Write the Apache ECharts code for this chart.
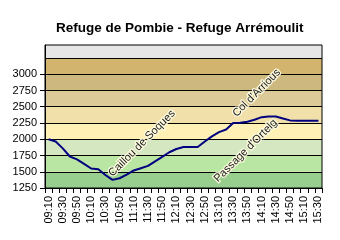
<!DOCTYPE html>
<html>
<head>
<meta charset="utf-8">
<script src="https://cdn.jsdelivr.net/npm/echarts@6/dist/echarts.min.js"></script>
<style>html,body{margin:0;padding:0;background:#fff;}#c{width:340px;height:240px;}</style>
</head>
<body>
<div id="c"></div>
<script>
var titleText = 'Refuge de Pombie - Refuge Arrémoulit';
var categories = ['09:10','09:20','09:30','09:40','09:50','10:00','10:10','10:20','10:30','10:40','10:50','11:00','11:10','11:20','11:30','11:40','11:50','12:00','12:10','12:20','12:30','12:40','12:50','13:00','13:10','13:20','13:30','13:40','13:50','14:00','14:10','14:20','14:30','14:40','14:50','15:00','15:10','15:20','15:30'];
var altitude = [2000,1965,1860,1735,1690,1620,1550,1540,1450,1375,1400,1455,1520,1555,1590,1660,1730,1800,1850,1880,1880,1880,1965,2045,2110,2150,2250,2255,2270,2300,2340,2350,2350,2320,2290,2285,2285,2285,2285];
var yTicks = [1250,1500,1750,2000,2250,2500,2750,3000,3250];
var bandLimits = [1250,1500,1750,2000,2250,2500,2750,3000,3250,3450];
var bandColors = ['#98cf8f','#b9e6a2','#d5e7c0','#fff0b5','#f1e0a9','#dccb98','#cdb87f','#d3b46f','#e6e6e6'];
var annoNames = ['Caillou de Soques','Col d\'Arrious','Passage d\'Ortelg'];
var annoX = ['11:20','14:00','13:50'];
var annoY = [1920,2680,1850];
var annoOffset = [[1.5,0],[3,0],[-2.5,0]];

var bands = [];
for (var i = 0; i < bandColors.length; i++) {
  bands.push([{yAxis: bandLimits[i], itemStyle: {color: bandColors[i]}}, {yAxis: bandLimits[i+1]}]);
}
var annos = [];
for (var j = 0; j < annoNames.length; j++) {
  annos.push({
    name: annoNames[j], coord: [annoX[j], annoY[j]],
    label: {formatter: annoNames[j], offset: annoOffset[j]}
  });
}
var font = 'Liberation Sans, Arial, sans-serif';
var chart = echarts.init(document.getElementById('c'), null, {renderer: 'canvas'});
chart.setOption({
  animation: false,
  backgroundColor: '#fff',
  title: {
    text: titleText, left: 51, top: 16,
    textStyle: {fontFamily: font, fontSize: 13.5, fontWeight: 'bold', color: '#000'}
  },
  grid: {left: 45, right: 18, top: 45, bottom: 52, show: true, borderColor: '#000', borderWidth: 1, z: 4},
  xAxis: {
    type: 'category', data: categories, boundaryGap: true,
    axisLine: {show: true, lineStyle: {color: '#000', width: 1}},
    axisTick: {show: true, interval: 0, length: 5, lineStyle: {color: '#000'}},
    axisLabel: {interval: 1, rotate: 90, margin: 8, color: '#000', fontFamily: font, fontSize: 11},
    splitLine: {show: false}
  },
  yAxis: {
    type: 'value', min: 1250, max: 3450, interval: 250, z: 2,
    axisLine: {show: true, lineStyle: {color: '#000', width: 1}},
    axisTick: {show: true, length: 5, lineStyle: {color: '#000'}, customValues: yTicks},
    axisLabel: {margin: 8, color: '#000', fontFamily: font, fontSize: 11, customValues: yTicks, showMaxLabel: false,
      formatter: function (v) { return String(v); }},
    splitLine: {show: true, lineStyle: {color: '#000', width: 1}}
  },
  series: [{
    type: 'line', data: altitude, symbol: 'none', smooth: false, z: 3,
    lineStyle: {color: '#000080', width: 2},
    markArea: {silent: true, z: 1, label: {show: false}, data: bands},
    markPoint: {
      silent: true, symbol: 'circle', symbolSize: 0, z: 6,
      label: {show: true, position: 'inside', rotate: 45, align: 'center', verticalAlign: 'middle',
        color: '#1a1a1a', fontFamily: font, fontSize: 11,
        textBorderColor: 'rgba(255,252,225,0.95)', textBorderWidth: 2.5},
      data: annos
    }
  }]
});
</script>
</body>
</html>
